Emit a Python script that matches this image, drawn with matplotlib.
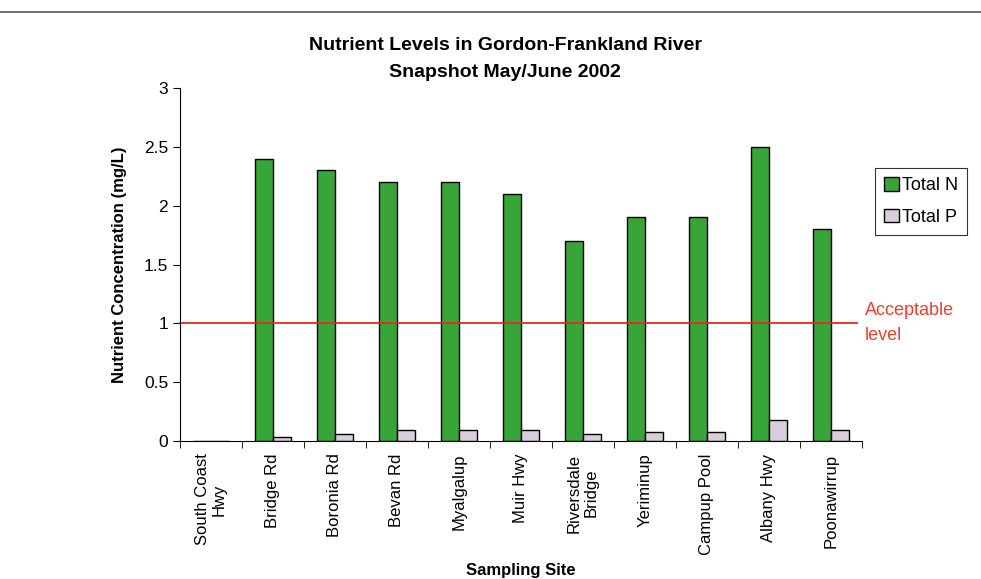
import matplotlib
matplotlib.use("Agg")
import matplotlib.pyplot as plt
import numpy as np
from matplotlib import font_manager

names = {f.name for f in font_manager.fontManager.ttflist}
narrow = "Liberation Sans Narrow" if "Liberation Sans Narrow" in names else "Liberation Sans"
plt.rcParams['font.family'] = ['Liberation Sans', 'DejaVu Sans']

sites = ["South Coast\nHwy", "Bridge Rd", "Boronia Rd", "Bevan Rd", "Myalgalup",
         "Muir Hwy", "Riversdale\nBridge", "Yeriminup", "Campup Pool", "Albany Hwy",
         "Poonawirrup"]
total_n = [0, 2.4, 2.3, 2.2, 2.2, 2.1, 1.7, 1.9, 1.9, 2.5, 1.8]
total_p = [0, 0.03, 0.06, 0.09, 0.09, 0.09, 0.06, 0.08, 0.08, 0.18, 0.09]
acceptable = 1.0

fig = plt.figure(figsize=(9.81, 5.79), dpi=100)
ax = fig.add_axes([0.1835, 0.2383, 0.695, 0.6097])

x = np.arange(len(sites))
w = 0.29
ax.bar(x - w/2, total_n, w, color="#38a538", edgecolor="black", linewidth=1.0, label="Total N")
ax.bar(x + w/2, total_p, w, color="#d8cedb", edgecolor="black", linewidth=1.0, label="Total P")

ax.set_xlim(-0.5, len(sites) - 0.5)
ax.set_ylim(0, 3)
ax.set_yticks([0, 0.5, 1, 1.5, 2, 2.5, 3])
ax.set_yticklabels(["0", "0.5", "1", "1.5", "2", "2.5", "3"], fontsize=12.5)
ax.set_xticks(x)
ax.set_xticklabels(sites, rotation=90, fontsize=12, linespacing=1.15)
ax.tick_params(axis='x', length=0, pad=9)
ax.set_xticks(np.arange(-0.5, len(sites)), minor=True)
ax.tick_params(axis='x', which='minor', length=5, direction='out')
ax.tick_params(axis='y', length=5, direction='out')
for s in ["top", "right"]:
    ax.spines[s].set_visible(False)

ax.axhline(acceptable, color="#e8291c", linewidth=1.3, xmax=0.993, clip_on=False)
ax.text(len(sites) - 0.5 + 0.05, acceptable, "Acceptable\nlevel", color="#e8402f",
        fontsize=13, va="center", ha="left", linespacing=1.6)

ax.set_ylabel("Nutrient Concentration (mg/L)", fontsize=12, fontweight="bold",
              family=[narrow, 'DejaVu Sans'], labelpad=12)
ax.set_xlabel("Sampling Site", fontsize=12, fontweight="bold",
              family=[narrow, 'DejaVu Sans'], labelpad=6)

fig.text(0.515, 0.898, "Nutrient Levels in Gordon-Frankland River\nSnapshot May/June 2002",
         ha="center", va="center", fontsize=14, fontweight="bold",
         family=[narrow, 'DejaVu Sans'], linespacing=1.75)

leg = fig.legend(loc="upper left", bbox_to_anchor=(0.892, 0.71), frameon=True,
                 fancybox=False, edgecolor="black", fontsize=13, handlelength=0.8,
                 handleheight=0.8, handletextpad=0.2, borderpad=0.5, labelspacing=0.8,
                 borderaxespad=0)
leg.get_frame().set_linewidth(0.8)

fig.add_artist(plt.Line2D([0.0, 1.0], [0.979, 0.979], color="#555555", linewidth=1.2,
                          transform=fig.transFigure))

fig.savefig("out.png", dpi=100)
